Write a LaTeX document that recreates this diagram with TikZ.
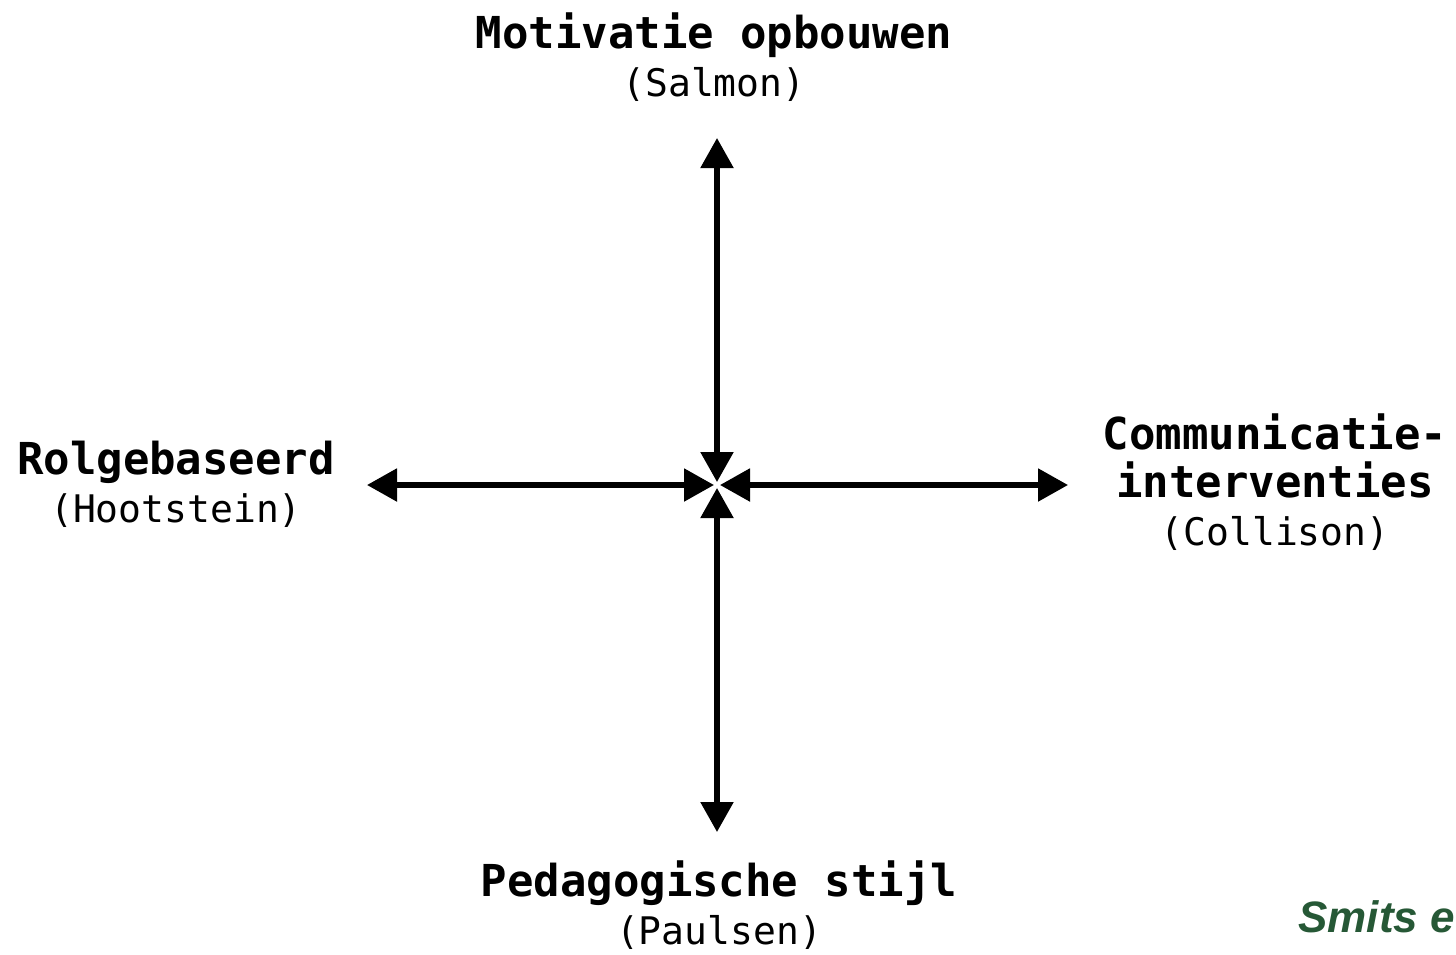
\documentclass[tikz,border=0pt]{standalone}
\usepackage{fontspec}
\setmainfont{Liberation Sans}
\setmonofont{DejaVu Sans Mono}
\usetikzlibrary{arrows.meta}
\definecolor{smitsgreen}{RGB}{38,88,54}

\begin{document}
\begin{tikzpicture}[x=0.5pt,y=-0.5pt,>={Triangle[length=15pt,width=16pt]},
	axis/.style={<->,line width=2.7pt,shorten <=1.5pt},
	pole/.style={align=center,inner sep=0pt,anchor=north,font=\fontsize{22}{24}\selectfont\ttfamily\bfseries}]
	\useasboundingbox (0,0) rectangle (1456,954);

	\coordinate (c) at (717,485);
	\coordinate (up) at (717,138);
	\coordinate (down) at (717,832);
	\coordinate (west) at (367,485);
	\coordinate (east) at (1068,485);

	\node[pole] (motiv) at (714,12) {Motivatie opbouwen\\{\mdseries\fontsize{19}{24}\selectfont (Salmon)}};
	\node[pole] (rol) at (176,441) {Rolgebaseerd\\{\mdseries\fontsize{19}{24}\selectfont (Hootstein)}};
	\node[pole] (comm) at (1275,413) {Communicatie-\\interventies\\{\mdseries\fontsize{19}{24}\selectfont (Collison)}};
	\node[pole] (ped) at (719,860) {Pedagogische stijl\\{\mdseries\fontsize{19}{23}\selectfont (Paulsen)}};
	\node[anchor=base west,inner sep=0pt,text=smitsgreen,font=\fontsize{22}{24}\selectfont\bfseries\itshape] (smits) at (1298,932) {Smits e};

	\draw[axis] (c) -- (up);
	\draw[axis] (c) -- (down);
	\draw[axis] (c) -- (west);
	\draw[axis] (c) -- (east);
\end{tikzpicture}
\end{document}
